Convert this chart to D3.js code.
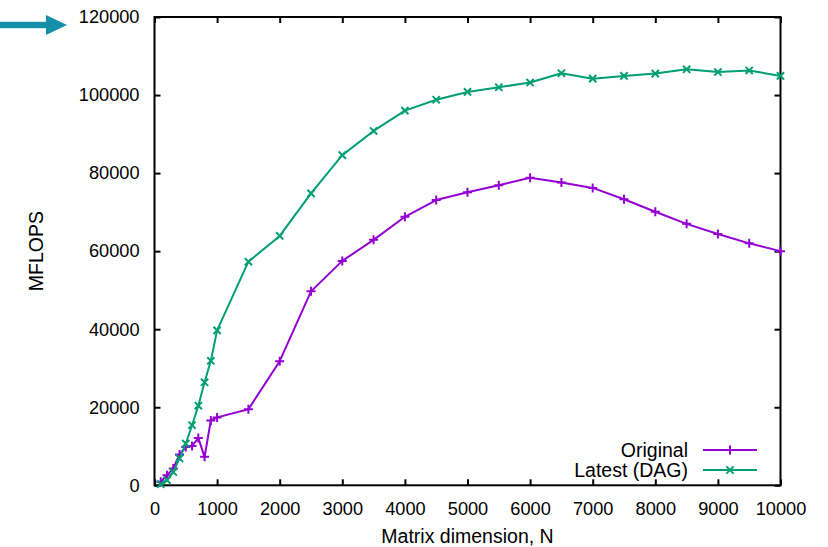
<!DOCTYPE html>
<html>
<head>
<meta charset="utf-8">
<script src="https://cdn.jsdelivr.net/npm/d3@7"></script>
<style>
  html, body { margin: 0; padding: 0; background: #fff; }
  svg { display: block; }
  text { font-family: "Liberation Sans", Arial, Helvetica, sans-serif; fill: #000; }
</style>
</head>
<body>
<svg id="chart" width="828" height="547"></svg>
<script>
// ---- data ----
const originalN = [100, 200, 300, 400, 500, 600, 700, 800, 900, 1000, 1500, 2000, 2500, 3000, 3500, 4000, 4500, 5000, 5500, 6000, 6500, 7000, 7500, 8000, 8500, 9000, 9500, 10000];
const originalMF = [900, 2600, 4300, 7900, 9800, 10100, 12100, 7300, 16600, 17400, 19500, 31800, 49700, 57500, 62900, 68800, 73100, 75100, 76900, 78800, 77600, 76200, 73300, 70100, 67000, 64400, 62000, 60000];
const latestN = [100, 200, 300, 400, 500, 600, 700, 800, 900, 1000, 1500, 2000, 2500, 3000, 3500, 4000, 4500, 5000, 5500, 6000, 6500, 7000, 7500, 8000, 8500, 9000, 9500, 10000];
const latestMF = [300, 1300, 3400, 6900, 10700, 15400, 20400, 26400, 31900, 39700, 57300, 63900, 74800, 84600, 90800, 96000, 98800, 100800, 102000, 103200, 105600, 104200, 104900, 105500, 106600, 105900, 106300, 104900];
const xTicks = [0, 1000, 2000, 3000, 4000, 5000, 6000, 7000, 8000, 9000, 10000];
const yTicks = [0, 20000, 40000, 60000, 80000, 100000, 120000];
const seriesNames = ["Original", "Latest (DAG)"];
const xTitle = "Matrix dimension, N";
const yTitle = "MFLOPS";

// ---- layout ----
const svg = d3.select("#chart");
const L = 154.5, R = 780.5, T = 17, B = 485.3;
const x = d3.scaleLinear().domain([0, 10000]).range([L, R]);
const y = d3.scaleLinear().domain([0, 120000]).range([B, T]);
const colors = ["#9400d3", "#009e73"];
const tickLen = 6;
const fs = 18.2;
const fsText = 19.5;

// arrow (annotation)
svg.append("rect").attr("x", 0).attr("y", 21.8).attr("width", 48).attr("height", 6.4).attr("fill", "#1690a8");
svg.append("path").attr("d", "M46,15 L67,25 L46,35 Z").attr("fill", "#1690a8");

// axes ticks via d3 axes (inward)
const gx = svg.append("g").attr("transform", `translate(0,${B})`)
  .call(d3.axisBottom(x).tickValues(xTicks).tickSize(-tickLen).tickPadding(tickLen + 10).tickFormat(d3.format("d")));
const gxTop = svg.append("g").attr("transform", `translate(0,${T})`)
  .call(d3.axisTop(x).tickValues(xTicks).tickSize(-tickLen).tickFormat(""));
const gy = svg.append("g").attr("transform", `translate(${L},0)`)
  .call(d3.axisLeft(y).tickValues(yTicks).tickSize(-tickLen).tickPadding(tickLen + 9).tickFormat(d3.format("d")));
const gyR = svg.append("g").attr("transform", `translate(${R},0)`)
  .call(d3.axisRight(y).tickValues(yTicks).tickSize(-tickLen).tickFormat(""));

[gx, gxTop, gy, gyR].forEach(g => {
  g.select(".domain").remove();
  g.selectAll(".tick line").attr("stroke", "#000").attr("stroke-width", 2);
  g.selectAll(".tick text").attr("font-size", fs).attr("font-family", "Liberation Sans, Arial, sans-serif").attr("fill", "#000");
});
gx.selectAll(".tick text").attr("dy", "0.71em").attr("y", 17);
gy.selectAll(".tick text").attr("x", -15);

// plot border
svg.append("rect").attr("x", L).attr("y", T).attr("width", R - L).attr("height", B - T)
  .attr("fill", "none").attr("stroke", "#000").attr("stroke-width", 2);

// axis titles
svg.append("text").attr("x", (L + R) / 2).attr("y", 543).attr("text-anchor", "middle").attr("font-size", fsText).text(xTitle);
svg.append("text").attr("transform", `translate(43,${(T + B) / 2}) rotate(-90)`).attr("text-anchor", "middle").attr("font-size", fsText).text(yTitle);

// series
const line = d3.line().x(d => x(d[0])).y(d => y(d[1]));
const series = [
  d3.zip(originalN, originalMF),
  d3.zip(latestN, latestMF)
];
const ms = 4.5;
function plusPath(cx, cy) { return `M${cx - ms},${cy} H${cx + ms} M${cx},${cy - ms} V${cy + ms}`; }
function crossPath(cx, cy) { const s = ms * 0.8; return `M${cx - s},${cy - s} L${cx + s},${cy + s} M${cx - s},${cy + s} L${cx + s},${cy - s}`; }
const markers = [plusPath, crossPath];

series.forEach((data, i) => {
  svg.append("path").datum(data).attr("d", line).attr("fill", "none")
    .attr("stroke", colors[i]).attr("stroke-width", 2).attr("stroke-linejoin", "round");
  svg.append("path")
    .attr("d", data.map(d => markers[i](x(d[0]), y(d[1]))).join(" "))
    .attr("fill", "none").attr("stroke", colors[i]).attr("stroke-width", 2);
});

// legend
const legY = [450, 470];
seriesNames.forEach((name, i) => {
  svg.append("text").attr("x", 688).attr("y", legY[i] + 6.8).attr("text-anchor", "end").attr("font-size", fsText).text(name);
  svg.append("line").attr("x1", 703).attr("x2", 757).attr("y1", legY[i]).attr("y2", legY[i])
    .attr("stroke", colors[i]).attr("stroke-width", 2);
  svg.append("path").attr("d", markers[i](730, legY[i])).attr("fill", "none").attr("stroke", colors[i]).attr("stroke-width", 2);
});
</script>
</body>
</html>
